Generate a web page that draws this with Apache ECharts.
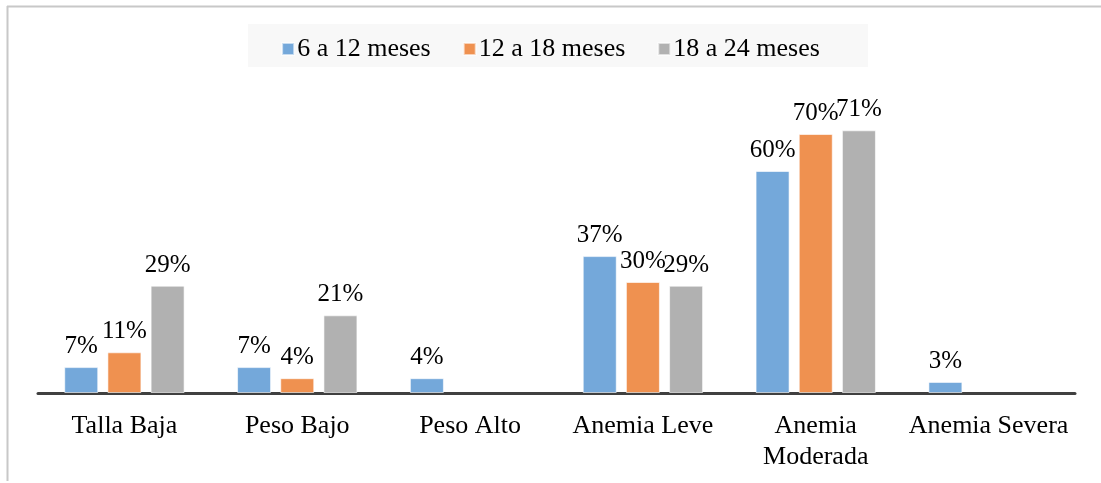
<!doctype html>
<html>
<head>
<meta charset="utf-8">
<script src="https://cdn.jsdelivr.net/npm/echarts@6/dist/echarts.min.js"></script>
<style>
    html, body {margin: 0; padding: 0; background: #fff;}
    #chart {width: 1101px; height: 483px;}
</style>
</head>
<body>
<div id="chart"></div>
<script>
    var categories = ['Talla Baja', 'Peso Bajo', 'Peso Alto', 'Anemia Leve', 'Anemia\nModerada', 'Anemia Severa'];
    var seriesNames = ['6 a 12 meses', '12 a 18 meses', '18 a 24 meses'];
    var meses6a12 = [7, 7, 4, 37, 60, 3];
    var meses12a18 = [11, 4, null, 30, 70, null];
    var meses18a24 = [29, 21, null, 29, 71, null];
    var colors = ['#74a8da', '#ef9150', '#b1b1b1'];

    var font = '"Liberation Serif", "Times New Roman", serif';
    var myChart = echarts.init(document.getElementById('chart'));

    function makeSeries(name, data, color) {
        return {
            name: name,
            type: 'bar',
            data: data,
            barWidth: 34,
            barGap: '27%',
            itemStyle: {color: color, borderColor: 'rgba(255,255,255,0.6)', borderWidth: 1},
            label: {
                show: true,
                position: 'top',
                distance: 8,
                color: '#000',
                fontFamily: font,
                fontSize: 25,
                formatter: function (p) { return p.value == null ? '' : p.value + '%'; }
            }
        };
    }

    var option = {
        animation: false,
        textStyle: {fontFamily: font},
        graphic: [
            {type: 'line', shape: {x1: 7.5, y1: 6, x2: 7.5, y2: 481}, style: {stroke: '#c8c8c8', lineWidth: 2}},
            {type: 'line', shape: {x1: 7, y1: 6.5, x2: 1101, y2: 6.5}, style: {stroke: '#c8c8c8', lineWidth: 2}},
            {type: 'rect', shape: {x: 248, y: 24, width: 620, height: 43}, style: {fill: '#f8f8f8'}, z: -1}
        ],
        legend: {
            top: 31,
            left: 'center',
            itemWidth: 12,
            itemHeight: 12,
            itemGap: 32,
            icon: 'rect',
            textStyle: {color: '#000', fontFamily: font, fontSize: 26, padding: [0, 0, 0, -2]},
            data: seriesNames
        },
        grid: {left: 38, right: 26, top: 97, bottom: 90, containLabel: false},
        xAxis: {
            type: 'category',
            data: categories,
            axisLine: {lineStyle: {color: '#404040', width: 3}},
            axisTick: {show: false},
            axisLabel: {color: '#000', fontFamily: font, fontSize: 26, margin: 18, lineHeight: 31, interval: 0}
        },
        yAxis: {
            type: 'value',
            min: 0,
            max: 80,
            show: false
        },
        series: [
            makeSeries(seriesNames[0], meses6a12, colors[0]),
            makeSeries(seriesNames[1], meses12a18, colors[1]),
            makeSeries(seriesNames[2], meses18a24, colors[2])
        ]
    };
    myChart.setOption(option);
</script>
</body>
</html>
